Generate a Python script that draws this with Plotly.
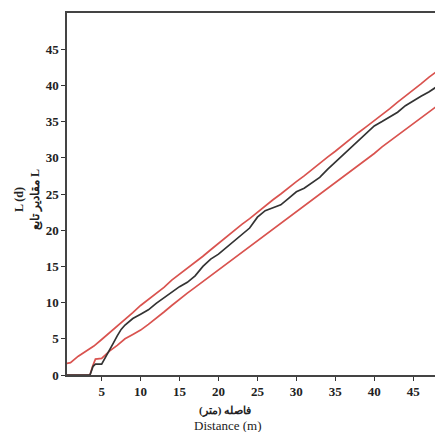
import plotly.graph_objects as go

# Distance (m)
dist_upper = [0.5, 1, 2, 3, 4, 5, 6, 7, 8, 9, 10, 11, 12, 13, 14, 15, 16, 17, 18, 19, 20,
              21, 22, 23, 24, 25, 26, 27, 28, 29, 30, 31, 32, 33, 34, 35, 36, 37, 38, 39, 40,
              41, 42, 43, 44, 45, 46, 47, 48]
upper_env = [1.6, 1.7, 2.6, 3.3, 4.0, 4.9, 5.8, 6.8, 7.7, 8.6, 9.6, 10.4, 11.3, 12.1, 13.1, 13.9,
             14.7, 15.6, 16.4, 17.3, 18.2, 19.0, 19.9, 20.8, 21.6, 22.5, 23.3, 24.2, 25.0, 25.9,
             26.7, 27.5, 28.4, 29.2, 30.1, 30.9, 31.8, 32.6, 33.5, 34.3, 35.1, 36.0, 36.8, 37.7,
             38.5, 39.4, 40.2, 41.1, 41.9]

dist_lower = [0.5, 1, 2, 3, 3.5, 3.8, 4.2, 5, 6, 7, 8, 9, 10, 11, 12, 13, 14, 15, 16, 17, 18,
              19, 20, 21, 22, 23, 24, 25, 26, 27, 28, 29, 30, 31, 32, 33, 34, 35, 36, 37, 38,
              39, 40, 41, 42, 43, 44, 45, 46, 47, 48]
lower_env = [0, 0, 0, 0, 0, 1.1, 2.2, 2.3, 3.3, 4.1, 5.0, 5.6, 6.2, 7.0, 7.8, 8.7, 9.6, 10.5,
             11.3, 12.1, 12.9, 13.7, 14.5, 15.4, 16.2, 17.0, 17.7, 18.5, 19.3, 20.1, 20.9, 21.7,
             22.5, 23.3, 24.1, 25.0, 25.8, 26.6, 27.4, 28.2, 29.0, 29.8, 30.6, 31.5, 32.3, 33.1,
             33.9, 34.7, 35.5, 36.3, 37.1]

dist_l = [0.5, 1, 2, 3, 3.5, 3.9, 4.2, 5, 5.5, 6, 6.5, 7, 7.5, 8, 9, 10, 11, 12, 13, 14, 15,
          16, 17, 18, 19, 20, 21, 22, 23, 24, 25, 26, 27, 28, 29, 30, 31, 32, 33, 34, 35, 36,
          37, 38, 39, 40, 41, 42, 43, 44, 45, 46, 47, 48]
l_values = [0, 0, 0, 0, 0, 1.2, 1.5, 1.5, 2.4, 3.3, 4.4, 5.4, 6.3, 6.9, 7.8, 8.4, 9.0, 9.9,
            10.7, 11.5, 12.2, 12.8, 13.7, 15.0, 16.0, 16.7, 17.6, 18.5, 19.3, 20.3, 21.8, 22.7,
            23.1, 23.5, 24.4, 25.3, 25.8, 26.5, 27.3, 28.4, 29.4, 30.4, 31.5, 32.5, 33.5, 34.4,
            35.0, 35.6, 36.3, 37.2, 37.9, 38.5, 39.1, 39.8]

x_ticks = [5, 10, 15, 20, 25, 30, 35, 40, 45]
y_ticks = [0, 5, 10, 15, 20, 25, 30, 35, 40, 45]

RED = "#d9534f"
DARK = "#333333"

fig = go.Figure()
fig.add_trace(go.Scatter(x=dist_upper, y=upper_env, mode="lines",
                         line=dict(color=RED, width=1.7), showlegend=False))
fig.add_trace(go.Scatter(x=dist_lower, y=lower_env, mode="lines",
                         line=dict(color=RED, width=1.7), showlegend=False))
fig.add_trace(go.Scatter(x=dist_l, y=l_values, mode="lines",
                         line=dict(color=DARK, width=1.7), showlegend=False))

tickfont = dict(family="Liberation Serif", size=13, color="#222222", weight="bold")

W, H = 435, 432
L_, R_, T_, B_ = 67, 0, 13, 57

fig.update_layout(
    width=W, height=H,
    margin=dict(l=L_, r=R_, t=T_, b=B_),
    paper_bgcolor="white", plot_bgcolor="white",
    font=dict(family="Liberation Serif", color="#222222"),
    xaxis=dict(range=[0.55, 47.8], tickvals=x_ticks, ticks="outside", ticklen=4,
               tickcolor="#333", showline=True, linecolor="#444", linewidth=1.5,
               mirror=True, showgrid=False, zeroline=False, tickfont=tickfont),
    yaxis=dict(range=[0, 50], tickvals=y_ticks, ticks="outside", ticklen=4,
               tickcolor="#333", showline=True, linecolor="#444", linewidth=1.5,
               mirror=False, showgrid=False, zeroline=False, tickfont=tickfont),
)

pw, ph = W - L_ - R_, H - T_ - B_


def px_to_paper(px, py):
    return (px - L_) / pw, (H - B_ - py) / ph


ann = [
    ("<b>L (d)</b><br><b>مقادیر تابع L</b>", 27, 200, 12, -90),
    ("<b>فاصله (متر)</b>", 225, 410, 11, 0),
    ("Distance (m)", 228, 425, 13, 0),
]
for text, px, py, size, ang in ann:
    ax, ay = px_to_paper(px, py)
    fig.add_annotation(text=text, x=ax, y=ay, xref="paper", yref="paper",
                       xanchor="center", yanchor="middle", showarrow=False,
                       textangle=ang, font=dict(family="Liberation Serif", size=size,
                                                color="#222222"))

fig.write_html("out.html", config={"displayModeBar": False},
               post_script="document.body.style.margin='0';document.body.style.overflow='hidden';")
